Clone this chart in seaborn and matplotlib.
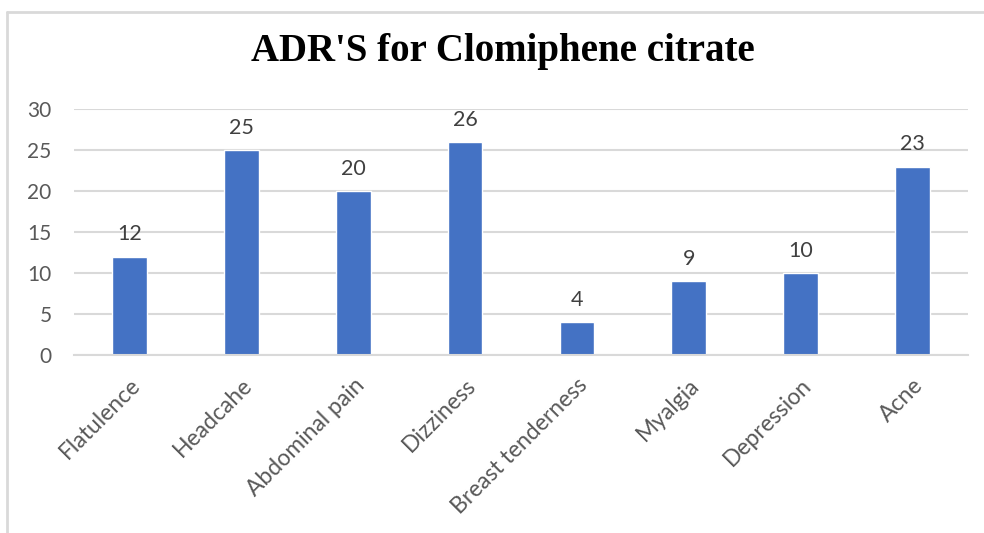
import matplotlib
matplotlib.use("Agg")
import matplotlib.pyplot as plt
import seaborn as sns
import pandas as pd
from matplotlib.lines import Line2D

# Data
categories = ["Flatulence", "Headcahe", "Abdominal pain", "Dizziness",
              "Breast tenderness", "Myalgia", "Depression", "Acne"]
counts = [12, 25, 20, 26, 4, 9, 10, 23]

df = pd.DataFrame({"ADR": categories, "Count": counts})

sns.set_style("white")
plt.rcParams["font.family"] = ["Lato", "DejaVu Sans"]

fig = plt.figure(figsize=(9.84, 5.33), dpi=100)
ax = fig.add_axes([0.075, 0.334, 0.909, 0.461])

sns.barplot(data=df, x="ADR", y="Count", color="#4472C4", width=0.31,
            saturation=1, ax=ax)

ax.set_ylim(0, 30)
ax.set_yticks(range(0, 31, 5))
ax.set_xlim(-0.5, len(categories) - 0.5)
ax.yaxis.grid(True, color="#d9d9d9", linewidth=1.5)
ax.set_axisbelow(True)
for side in ["top", "right", "left"]:
    ax.spines[side].set_visible(False)
ax.spines["bottom"].set_color("#d9d9d9")
ax.spines["bottom"].set_linewidth(1.5)
ax.set_xlabel("")
ax.set_ylabel("")
ax.tick_params(axis="y", length=0, labelsize=15, labelcolor="#595959", pad=16)
ax.tick_params(axis="x", length=0, labelsize=16.5, labelcolor="#595959", pad=14)
plt.setp(ax.get_xticklabels(), rotation=45, ha="right", rotation_mode="anchor")

for container in ax.containers:
    ax.bar_label(container, padding=9, fontsize=15.5, color="#404040")

fig.suptitle("ADR'S for Clomiphene citrate", x=0.511, y=1 - 52 / 533, va="center",
             fontsize=28, fontweight="bold", family="Liberation Serif",
             color="black")

# light frame around the chart (top and left edges visible)
fig.add_artist(Line2D([7 / 984, 1], [1 - 12 / 533, 1 - 12 / 533],
                      color="#d9d9d9", linewidth=2, transform=fig.transFigure))
fig.add_artist(Line2D([7 / 984, 7 / 984], [0, 1 - 12 / 533],
                      color="#d9d9d9", linewidth=2, transform=fig.transFigure))

fig.savefig("out.png", dpi=100)
